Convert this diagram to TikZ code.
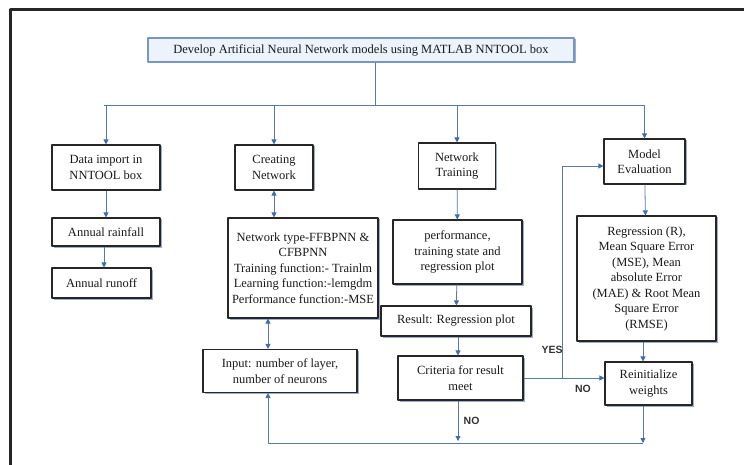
\documentclass[tikz,border=0pt]{standalone}
\usepackage{fontspec}
\setmainfont{Liberation Serif}
\setsansfont{Liberation Sans}
\usetikzlibrary{arrows.meta,shadows}
\definecolor{lnblue}{RGB}{88,122,168}
\definecolor{tipblue}{RGB}{62,108,172}
\definecolor{topfill}{RGB}{236,243,251}
\definecolor{topline}{RGB}{120,150,195}
\begin{document}
\begin{tikzpicture}[x=1pt,y=-1pt,line join=round,
	>={Triangle[width=5pt,length=5pt,color=tipblue]},
	box/.style={draw=black!85,line width=1.1pt,fill=white,align=center,text=black!90,inner sep=1pt,
		font=\fontsize{12.5}{15.5}\selectfont,
		drop shadow={shadow xshift=1.5pt,shadow yshift=-1.5pt,fill=lnblue,opacity=.6}},
	conn/.style={draw=lnblue,line width=0.8pt},
	yn/.style={font=\sffamily\bfseries\fontsize{10.5}{12}\selectfont,text=black!80}]
	\useasboundingbox (0,0) rectangle (744,465);
	\draw[line width=3pt,black!85] (10,470)--(10,10)--(750,10);
	
	\node[box,fill=topfill,draw=topline,minimum width=426pt,minimum height=24pt] (dev) at (361,50) {Develop Artificial Neural Network models using MATLAB NNTOOL box};
	
	\node[box,minimum width=108pt,minimum height=45pt] (data) at (106,167.5) {Data import in\\NNTOOL box};
	\node[box,minimum width=108pt,minimum height=28pt] (rain) at (106,232) {Annual rainfall};
	\node[box,minimum width=99pt,minimum height=30pt] (runoff) at (101.5,283) {Annual runoff};
	
	\node[box,minimum width=78pt,minimum height=45pt] (create) at (274,167.5) {Creating\\Network};
	\node[box,minimum width=150pt,minimum height=100pt] (nettype) at (303,268) {Network type-FFBPNN \&\\CFBPNN\\Training function:- Trainlm\\Learning function:-lemgdm\\Performance function:-MSE};
	\node[box,minimum width=154pt,minimum height=43pt] (input) at (280,371) {Input: number of layer,\\number of neurons};
	
	\node[box,minimum width=77pt,minimum height=46pt] (train) at (457,166) {Network\\Training};
	\node[box,minimum width=129pt,minimum height=64pt] (perf) at (457.5,252) {performance,\\training state and\\regression plot};
	\node[box,minimum width=150pt,minimum height=30pt] (result) at (456,321) {Result: Regression plot};
	\node[box,minimum width=125pt,minimum height=44pt] (crit) at (460.5,378) {Criteria for result\\meet};
	
	\node[box,minimum width=81pt,minimum height=45pt] (eval) at (644.5,161.5) {Model\\Evaluation};
	\node[box,minimum width=139pt,minimum height=125pt] (metrics) at (646.5,278.5) {Regression (R),\\Mean Square Error\\(MSE), Mean\\absolute Error\\(MAE) \& Root Mean\\Square Error\\(RMSE)};
	\node[box,minimum width=87pt,minimum height=43pt] (reinit) at (648.5,383.5) {Reinitialize\\weights};
	
	\coordinate (split) at (375,105);
	\coordinate (yesx) at (562,166);
	\coordinate (bl) at (268,443);
	\coordinate (br) at (643,443);
	
	\draw[conn] (dev.south -| split)--(split);
	\draw[conn] (104,105)--(645,105);
	\draw[conn,->] (data.north |- split)--(data.north);
	\draw[conn,->] (create.north |- split)--(create.north);
	\draw[conn,->] (train.north |- split)--(train.north);
	\draw[conn,->] (eval.north |- split)--(eval.north);
	
	\draw[conn,->] (data)--(rain);
	\draw[conn,->] (rain.south -| 104,0)--(runoff.north -| 104,0);
	\draw[conn,<->] (create.south)--(create.south |- nettype.north);
	\draw[conn,<->] (nettype.south -| bl)--(input.north -| bl);
	
	\draw[conn,->] (train)--(perf);
	\draw[conn,->] (perf)--(result);
	\draw[conn,->] (result.south -| 458,0)--(crit.north -| 458,0);
	\draw[conn,->] (crit.south -| 458,0)--(458,441) node[yn,midway,right=2pt] {NO};
	
	\draw[conn,->] (eval)--(metrics);
	\draw[conn,->] (metrics.south -| br)--(reinit.north -| br);
	
	\draw[conn,->] (crit.east)--(crit.east -| reinit.west);
	\draw[conn,->] (crit.east -| yesx)--(yesx)--(yesx -| eval.west);
	\node[yn] (yes) at (552,350) {YES};
	\node[yn] (no) at (583,389) {NO};
	
	\draw[conn,->] (reinit.south -| br)--(br);
	\draw[conn,->] (br)--(bl)--(bl |- input.south);
\end{tikzpicture}
\end{document}
